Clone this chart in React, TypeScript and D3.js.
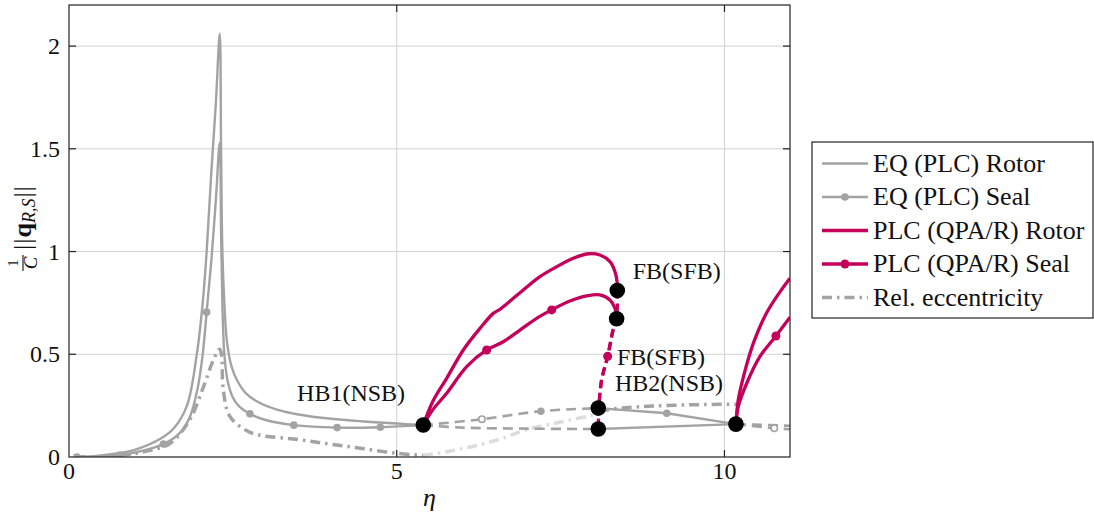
import React from "react";
import * as d3 from "d3";

type P = [number, number];

// ---------- data ----------
const xTicks = [0, 5, 10];
const yTicks = [0, 0.5, 1, 1.5, 2];
const yTickLabels = ["0", "0.5", "1", "1.5", "2"];

// EQ (PLC) Rotor
const eqRotorStable1: P[] = [
  [0.1, 0], [0.5, 0.008], [1.0, 0.035], [1.4, 0.09], [1.6, 0.14], [1.8, 0.25], [1.95, 0.5],
  [2.04, 0.75], [2.1, 1.0], [2.17, 1.38], [2.24, 1.72], [2.3, 2.06], [2.32, 1.5], [2.34, 1.0],
  [2.37, 0.75], [2.41, 0.56], [2.48, 0.44], [2.57, 0.37], [2.7, 0.31], [2.9, 0.265], [3.2, 0.228],
  [3.5, 0.207], [4.0, 0.186], [4.5, 0.173], [5.0, 0.163], [5.4, 0.156],
];
const eqRotorUnstable1: P[] = [[5.4, 0.155], [6.0, 0.143], [7.0, 0.138], [8.075, 0.136]];
const eqRotorStable2: P[] = [[8.075, 0.136], [10.175, 0.16]];
const eqRotorUnstable2: P[] = [[10.175, 0.16], [11, 0.152]];

// EQ (PLC) Seal
const eqSealStable1: P[] = [
  [0.12, 0], [0.78, 0.01], [1.44, 0.063], [1.7, 0.12], [1.85, 0.2], [1.96, 0.33], [2.04, 0.5],
  [2.1, 0.705], [2.17, 0.95], [2.24, 1.25], [2.3, 1.53], [2.32, 1.1], [2.34, 0.75], [2.37, 0.5],
  [2.42, 0.37], [2.5, 0.29], [2.6, 0.245], [2.76, 0.21], [3.0, 0.18], [3.43, 0.155],
  [4.09, 0.143], [4.75, 0.145], [5.4, 0.155],
];
const eqSealUnstable1: P[] = [[5.4, 0.155], [6.3, 0.184], [7.2, 0.223], [8.075, 0.238]];
const eqSealStable2: P[] = [[8.075, 0.238], [9.12, 0.213], [10.175, 0.16]];
const eqSealUnstable2: P[] = [[10.175, 0.16], [10.76, 0.14], [11, 0.135]];
const eqSealMarksSolid: P[] = [
  [0.12, 0], [0.78, 0.01], [1.44, 0.063], [2.1, 0.705], [2.76, 0.21], [3.43, 0.155],
  [4.09, 0.143], [4.75, 0.145], [7.2, 0.223], [9.12, 0.213],
];
const eqSealMarksOpen: P[] = [[6.3, 0.184], [10.76, 0.14]];

// Rel. eccentricity
const eccStable1: P[] = [
  [0.1, 0], [0.8, 0.008], [1.2, 0.03], [1.54, 0.066], [1.84, 0.18], [2.05, 0.34], [2.2, 0.47],
  [2.3, 0.525], [2.33, 0.49], [2.35, 0.34], [2.45, 0.2], [2.7, 0.13], [2.9, 0.107],
  [3.5, 0.085], [4.0, 0.062], [4.5, 0.04], [5.0, 0.018], [5.4, 0.008],
];
const eccUnstable: P[] = [
  [5.4, 0.008], [5.7, 0.022], [6.2, 0.055], [6.6, 0.09], [7.0, 0.135], [7.5, 0.17], [7.94, 0.2], [8.1, 0.212],
];
const eccStable2: P[] = [[8.1, 0.215], [8.2, 0.228], [8.5, 0.24], [8.9, 0.248], [9.5, 0.254], [10.175, 0.257]];

// PLC (QPA/R) Rotor
const plcRotor1: P[] = [
  [5.405, 0.156], [5.55, 0.27], [5.762, 0.383], [6.016, 0.521], [6.27, 0.626], [6.473, 0.699],
  [6.575, 0.719], [6.677, 0.745], [6.93, 0.813], [7.185, 0.878], [7.44, 0.926], [7.694, 0.967],
  [7.897, 0.988], [8.1, 0.983], [8.253, 0.951], [8.33, 0.902], [8.365, 0.845], [8.365, 0.81],
];
const plcRotorUnstable: P[] = [
  [8.365, 0.81], [8.355, 0.68], [8.3, 0.618], [8.218, 0.49], [8.126, 0.375], [8.085, 0.245], [8.075, 0.136],
];
const plcRotor2: P[] = [
  [10.175, 0.16], [10.21, 0.277], [10.29, 0.391], [10.44, 0.553], [10.64, 0.7], [10.85, 0.805], [11, 0.87],
];

// PLC (QPA/R) Seal
const plcSeal1: P[] = [
  [5.405, 0.156], [5.55, 0.23], [5.762, 0.31], [6.067, 0.44], [6.372, 0.521], [6.626, 0.561],
  [6.88, 0.618], [7.135, 0.675], [7.364, 0.716], [7.643, 0.759], [7.897, 0.784], [8.1, 0.789],
  [8.253, 0.764], [8.33, 0.724], [8.355, 0.68],
];
const plcSealUnstable: P[] = [[8.355, 0.68], [8.3, 0.618], [8.218, 0.49], [8.126, 0.375], [8.085, 0.245]];
const plcSeal2: P[] = [
  [10.175, 0.16], [10.21, 0.245], [10.34, 0.359], [10.54, 0.488], [10.785, 0.589], [11, 0.68],
];
const plcSealMarks: P[] = [[6.372, 0.521], [7.364, 0.716], [8.218, 0.49], [10.785, 0.589]];

// Bifurcation points
const bifPoints: P[] = [[5.405, 0.156], [8.365, 0.81], [8.355, 0.673], [8.075, 0.238], [8.075, 0.136], [10.175, 0.16]];

const annotations = [
  { x: 3.48, y: 0.31, text: "HB1(NSB)" },
  { x: 8.6, y: 0.905, text: "FB(SFB)" },
  { x: 8.36, y: 0.487, text: "FB(SFB)" },
  { x: 8.33, y: 0.36, text: "HB2(NSB)" },
];

const legendItems = [
  { label: "EQ (PLC) Rotor", kind: "eqRotor" },
  { label: "EQ (PLC) Seal", kind: "eqSeal" },
  { label: "PLC (QPA/R) Rotor", kind: "plcRotor" },
  { label: "PLC (QPA/R) Seal", kind: "plcSeal" },
  { label: "Rel. eccentricity", kind: "ecc" },
];

// ---------- styles ----------
const GRAY = "#a3a3a3";
const LIGHT = "#dcdcdc";
const MAG = "#c4005b";
const FONT = "'Liberation Serif', 'Times New Roman', serif";

export default function App() {
  const W = 1094, H = 526;
  const left = 69, right = 790, top = 5, bottom = 457;
  const x = d3.scaleLinear().domain([0, 11]).range([left, right]);
  const y = d3.scaleLinear().domain([0, 2.2]).range([bottom, top]);
  const line = d3.line<P>().x((d) => x(d[0])).y((d) => y(d[1])).curve(d3.curveCatmullRom.alpha(0.5));
  const straight = d3.line<P>().x((d) => x(d[0])).y((d) => y(d[1]));

  const dashed = "10 6";
  const dashDot = "10 5 2.5 5";

  return (
    <svg width={W} height={H} style={{ position: "absolute", left: 0, top: 0, background: "#fff" }} fontFamily={FONT}>
      <defs>
        <clipPath id="plot">
          <rect x={left} y={top} width={right - left} height={bottom - top} />
        </clipPath>
      </defs>
      {/* grid */}
      {xTicks.filter((t) => t > 0).map((t) => (
        <line key={"gx" + t} x1={x(t)} x2={x(t)} y1={top} y2={bottom} stroke="#d2d2d2" strokeWidth={1} />
      ))}
      {yTicks.filter((t) => t > 0).map((t) => (
        <line key={"gy" + t} x1={left} x2={right} y1={y(t)} y2={y(t)} stroke="#d2d2d2" strokeWidth={1} />
      ))}

      <g clipPath="url(#plot)" fill="none">
        {/* eccentricity */}
        <path d={line(eccStable1)!} stroke={GRAY} strokeWidth={3.5} strokeDasharray={dashDot} />
        <path d={line(eccUnstable)!} stroke={LIGHT} strokeWidth={3.5} strokeDasharray={dashDot} />
        <path d={line(eccStable2)!} stroke={GRAY} strokeWidth={3.5} strokeDasharray={dashDot} />

        {/* EQ rotor */}
        <path d={line(eqRotorStable1)!} stroke={GRAY} strokeWidth={2.4} />
        <path d={line(eqRotorUnstable1)!} stroke={GRAY} strokeWidth={2.6} strokeDasharray={dashed} />
        <path d={straight(eqRotorStable2)!} stroke={GRAY} strokeWidth={2.4} />
        <path d={straight(eqRotorUnstable2)!} stroke={GRAY} strokeWidth={2.6} strokeDasharray={dashed} />

        {/* EQ seal */}
        <path d={line(eqSealStable1)!} stroke={GRAY} strokeWidth={2.4} />
        <path d={line(eqSealUnstable1)!} stroke={GRAY} strokeWidth={2.6} strokeDasharray={dashed} />
        <path d={straight(eqSealStable2)!} stroke={GRAY} strokeWidth={2.4} />
        <path d={line(eqSealUnstable2)!} stroke={GRAY} strokeWidth={2.6} strokeDasharray={dashed} />
        {eqSealMarksSolid.map((d, i) => (
          <circle key={"ms" + i} cx={x(d[0])} cy={y(d[1])} r={3.8} fill={GRAY} />
        ))}
        {eqSealMarksOpen.map((d, i) => (
          <circle key={"mo" + i} cx={x(d[0])} cy={y(d[1])} r={3.2} fill="#fff" stroke={GRAY} strokeWidth={1.6} />
        ))}

        {/* PLC rotor & seal */}
        <path d={line(plcRotor1)!} stroke={MAG} strokeWidth={3.3} />
        <path d={line(plcSeal1)!} stroke={MAG} strokeWidth={3.3} />
        <path d={line(plcRotorUnstable)!} stroke={MAG} strokeWidth={3.3} strokeDasharray="8 5" />
        <path d={line(plcSealUnstable)!} stroke={MAG} strokeWidth={3.3} strokeDasharray="8 5" />
        <path d={line(plcRotor2)!} stroke={MAG} strokeWidth={3.3} />
        <path d={line(plcSeal2)!} stroke={MAG} strokeWidth={3.3} />
        {plcSealMarks.map((d, i) => (
          <circle key={"pm" + i} cx={x(d[0])} cy={y(d[1])} r={4.5} fill={MAG} />
        ))}

        {bifPoints.map((d, i) => (
          <circle key={"bp" + i} cx={x(d[0])} cy={y(d[1])} r={7.8} fill="#000" />
        ))}
      </g>

      {/* frame */}
      <rect x={left} y={top} width={right - left} height={bottom - top} fill="none" stroke="#222" strokeWidth={1.2} />
      {/* ticks inward */}
      {xTicks.filter((t) => t > 0).map((t) => (
        <g key={"tx" + t}>
          <line x1={x(t)} x2={x(t)} y1={bottom} y2={bottom - 7} stroke="#222" strokeWidth={1.2} />
          <line x1={x(t)} x2={x(t)} y1={top} y2={top + 7} stroke="#222" strokeWidth={1.2} />
        </g>
      ))}
      {yTicks.filter((t) => t > 0).map((t) => (
        <g key={"ty" + t}>
          <line x1={left} x2={left + 7} y1={y(t)} y2={y(t)} stroke="#222" strokeWidth={1.2} />
          <line x1={right} x2={right - 7} y1={y(t)} y2={y(t)} stroke="#222" strokeWidth={1.2} />
        </g>
      ))}

      {/* tick labels */}
      {xTicks.map((t) => (
        <text key={"lx" + t} x={x(t)} y={bottom + 22} fontSize={24} textAnchor="middle" fill="#111">{t}</text>
      ))}
      {yTicks.map((t, i) => (
        <text key={"ly" + t} x={left - 9} y={y(t) + 8} fontSize={24} textAnchor="end" fill="#111">{yTickLabels[i]}</text>
      ))}

      {/* axis labels */}
      <text x={x(5.5)} y={506} fontSize={26} fontStyle="italic" textAnchor="middle" fill="#111">η</text>
      <g transform="translate(23,228) rotate(-90)" fill="#111">
        <text x={-35} y={-5} fontSize={15} textAnchor="middle">1</text>
        <line x1={-43} x2={-27} y1={0} y2={0} stroke="#111" strokeWidth={1.1} />
        <text x={-35} y={14} fontSize={19} fontStyle="italic" textAnchor="middle">C</text>
        <text x={-22} y={8} fontSize={26}>
          <tspan letterSpacing={1}>||</tspan>
          <tspan fontWeight="bold">q</tspan>
          <tspan fontSize={18} fontStyle="italic" dy={4}>R,S</tspan>
          <tspan dy={-4} dx={1} letterSpacing={1}>||</tspan>
        </text>
      </g>

      {/* annotations */}
      {annotations.map((a, i) => (
        <text key={"an" + i} x={x(a.x)} y={y(a.y) + 8} fontSize={24} fill="#111">{a.text}</text>
      ))}

      {/* legend */}
      <rect x={812} y={142} width={281} height={176} fill="#fff" stroke="#222" strokeWidth={1.2} />
      {legendItems.map((it, i) => {
        const cy = 163.5 + i * 33.5;
        const x1 = 822, x2 = 868;
        let sample: React.ReactNode = null;
        if (it.kind === "eqRotor") sample = <line x1={x1} x2={x2} y1={cy} y2={cy} stroke={GRAY} strokeWidth={2.4} />;
        if (it.kind === "eqSeal")
          sample = (
            <g>
              <line x1={x1} x2={x2} y1={cy} y2={cy} stroke={GRAY} strokeWidth={2.4} />
              <circle cx={(x1 + x2) / 2} cy={cy} r={3.8} fill={GRAY} />
            </g>
          );
        if (it.kind === "plcRotor") sample = <line x1={x1} x2={x2} y1={cy} y2={cy} stroke={MAG} strokeWidth={3.3} />;
        if (it.kind === "plcSeal")
          sample = (
            <g>
              <line x1={x1} x2={x2} y1={cy} y2={cy} stroke={MAG} strokeWidth={3.3} />
              <circle cx={(x1 + x2) / 2} cy={cy} r={4.5} fill={MAG} />
            </g>
          );
        if (it.kind === "ecc")
          sample = <line x1={x1} x2={x2} y1={cy} y2={cy} stroke={GRAY} strokeWidth={3.5} strokeDasharray={dashDot} />;
        return (
          <g key={"lg" + i}>
            {sample}
            <text x={873} y={cy + 8} fontSize={26} fill="#111">{it.label}</text>
          </g>
        );
      })}
    </svg>
  );
}
